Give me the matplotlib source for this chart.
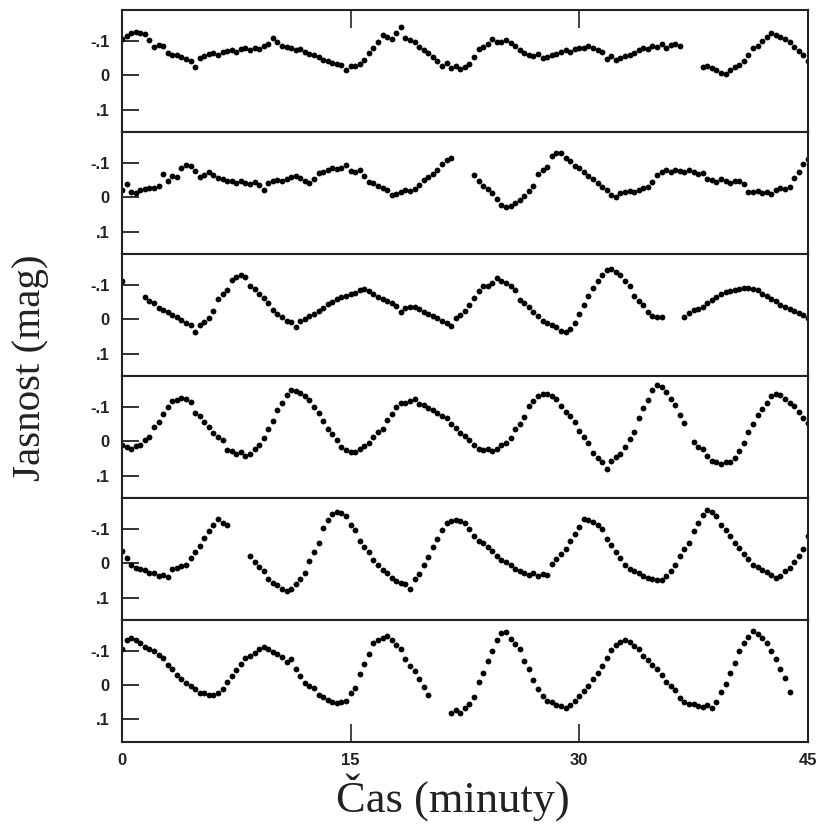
import numpy as np
import matplotlib.pyplot as plt

# sampling cadence of the photometry (minutes)
STEP = 0.3

# brightness in hundredths of mag (top to bottom)
p1_a = [-10.5, -11.5, -12.4, -12.6, -12.3, -12.0, -10.3, -8.2, -8.8, -8.5, -6.5, -6.0,
        -5.8, -5.3, -4.6, -4.2, -2.3, -5.0, -5.6, -6.2, -6.5, -6.0, -6.8, -7.0, -7.4,
        -6.8, -7.6, -8.0, -7.2, -8.0, -7.6, -8.4, -9.2, -10.7, -9.8, -8.6, -8.2, -7.9,
        -7.3, -7.6, -6.8, -6.2, -5.9, -5.2, -4.4, -4.2, -3.6, -3.2, -3.0, -1.5, -2.6,
        -2.8, -3.2, -4.5, -6.5, -7.8, -9.8, -11.6, -11.0, -10.5, -12.2, -13.9, -10.8,
        -10.2, -9.6, -8.3, -7.2, -6.6, -5.4, -4.0, -2.8, -3.6, -2.2, -2.6, -1.8, -2.4,
        -3.4, -5.2, -7.6, -8.3, -9.0, -10.4, -9.8, -9.6, -10.2, -9.5, -8.6, -7.2, -6.6,
        -6.0, -5.6, -6.2, -5.0, -5.4, -6.0, -6.3, -6.9, -7.2, -6.8, -7.6, -8.0, -7.8,
        -8.4, -7.9, -7.4, -6.8, -4.6, -5.6, -4.4, -5.0, -5.5, -6.0, -6.6, -7.2, -8.0,
        -7.6, -8.6, -8.2, -9.0, -8.0, -8.8, -9.2, -8.4]
p1_b = [-2.4, -2.8, -2.0, -1.4, -0.6, -0.3, -1.6, -2.4, -3.0, -4.2, -5.8, -7.8, -8.6,
        -10.0, -11.2, -12.2, -11.8, -11.2, -10.4, -9.6, -8.2, -7.0, -5.8, -4.2]

p2_a = [-2.0, -3.8, -1.6, -1.2, -2.0, -2.4, -2.8, -2.6, -3.2, -6.8, -4.6, -6.2, -6.0,
        -8.6, -9.4, -9.0, -7.6, -6.0, -6.6, -7.2, -6.4, -5.6, -5.2, -4.8, -4.6, -4.2,
        -4.8, -4.0, -3.8, -4.4, -3.6, -2.2, -4.0, -4.6, -5.0, -4.6, -5.4, -5.8, -6.2,
        -5.6, -4.8, -4.0, -5.4, -7.0, -7.4, -7.8, -8.6, -8.2, -8.6, -9.4, -7.6, -7.4,
        -7.8, -6.2, -4.4, -4.0, -3.4, -2.8, -2.0, -0.6, -1.0, -1.6, -2.0, -1.8, -2.4,
        -3.6, -5.0, -5.8, -6.8, -7.8, -9.8, -10.8, -11.4]
p2_b = [-6.6, -4.6, -3.2, -2.4, -1.2, 0.4, 2.2, 2.8, 2.6, 1.8, 0.8, -0.4, -1.8, -3.4,
        -6.8, -7.8, -8.8, -12.0, -12.8, -13.0, -11.4, -10.4, -9.0, -8.4, -7.4, -6.2,
        -5.2, -4.0, -3.0, -2.0, -0.6, -0.2, -1.2, -1.4, -1.8, -1.6, -2.2, -2.6, -3.0,
        -4.4, -6.4, -7.2, -7.8, -7.4, -7.8, -7.6, -7.2, -7.8, -7.4, -6.8, -7.0, -5.4,
        -5.0, -4.4, -5.2, -4.8, -4.2, -4.8, -4.6, -3.8, -1.6, -1.4, -1.8, -1.2, -1.6,
        -1.0, -2.2, -2.6, -2.4, -3.0, -5.6, -7.4, -9.6, -11.0]

p3_a = [-11.0]
p3_b = [-6.4, -5.2, -4.6, -3.2, -2.6, -2.0, -1.2, -0.6, 0.2, 1.0, 1.6, 3.6, 1.8, 0.8,
        -0.4, -2.4, -5.8, -7.2, -8.4, -11.4, -12.2, -13.0, -12.2, -9.8, -8.8, -7.4,
        -6.2, -4.6, -2.6, -1.6, -0.6, 0.4, 0.8, 2.2, 0.6, 0.0, -0.8, -1.4, -2.4, -3.2,
        -4.4, -5.0, -5.8, -6.4, -6.8, -7.2, -7.6, -8.4, -8.8, -8.2, -7.4, -6.4, -6.0,
        -5.4, -4.6, -3.8, -2.0, -3.2, -3.6, -3.4, -3.0, -2.2, -1.6, -1.0, -0.2, 0.4,
        1.0, 2.0, -0.4, -1.2, -2.4, -4.2, -6.2, -8.2, -9.6, -9.8, -10.6, -12.0, -11.0,
        -10.4, -9.6, -8.4, -5.6, -4.8, -3.6, -2.2, -0.8, 0.6, 1.2, 1.6, 2.4, 3.4, 3.6,
        3.0, 1.2, -1.4, -4.0, -6.6, -9.0, -11.2, -13.0, -14.2, -14.6, -13.6, -12.8,
        -11.0, -9.6, -6.8, -5.2, -4.0, -2.2, -1.0, -0.6, -0.6]
p3_c = [-0.6, -1.8, -2.6, -3.0, -3.6, -4.6, -5.6, -6.4, -7.2, -7.8, -8.2, -8.6, -8.8,
        -9.0, -9.2, -8.8, -8.4, -7.4, -6.8, -6.0, -5.2, -4.2, -3.6, -3.0, -2.4, -1.8,
        -1.2, -0.4]

p4_a = [1.2, 1.6, 2.4, 1.4, 1.0, -0.2, -1.2, -4.2, -5.6, -8.0, -10.0, -11.8, -12.0,
        -12.6, -12.2, -11.4, -8.2, -7.2, -5.6, -4.0, -2.4, -1.2, -0.2, 2.6, 3.0, 3.6,
        3.2, 4.4, 3.6, 2.4, 1.0, -0.8, -3.4, -6.0, -9.2, -11.0, -13.4, -14.8, -14.6,
        -14.0, -13.2, -12.0, -10.0, -8.2, -6.0, -3.6, -2.0, -0.2, 1.6, 2.6, 3.2, 3.2,
        2.4, 1.4, 0.6, -1.2, -2.6, -3.6, -6.2, -8.0, -9.8, -11.2, -11.0, -11.8, -12.2,
        -10.8, -10.4, -9.6, -9.0, -8.2, -7.2, -6.6, -5.0, -3.8, -2.4, -1.4, -0.4, 1.2,
        2.2, 2.6, 2.2, 2.8, 2.4, 1.2, 0.4, -0.8, -3.4, -5.0, -7.0, -10.2, -11.6, -13.2,
        -13.8, -13.6, -13.0, -12.4, -10.2, -8.6, -7.2, -5.6, -3.0, -1.2, 0.4, 3.4, 5.0,
        6.2, 8.0, 5.8, 4.6, 3.6, 1.6, -0.6, -2.8, -6.6, -9.6, -12.0, -15.0, -16.2,
        -15.8, -14.2, -12.4, -10.6, -7.6, -5.4]
p4_b = [0.2, 1.6, 2.4, 4.2, 5.8, 6.2, 6.6, 6.0, 6.2, 4.8, 3.0, 0.6, -2.6, -5.0, -7.6,
        -9.4, -11.2, -13.0, -13.8, -13.4, -12.2, -11.0, -10.2, -8.6, -6.8, -5.2]

p5_a = [-3.4, -1.6, 0.6, 1.4, 1.8, 2.0, 2.8, 3.0, 3.6, 3.4, 4.0, 1.8, 1.4, 0.8, 0.4,
        -1.6, -3.2, -5.0, -7.2, -9.4, -11.2, -12.8, -11.8, -11.0]
p5_b = [-2.2, -0.2, 1.0, 2.4, 4.6, 5.8, 6.4, 7.6, 8.2, 7.4, 6.2, 4.6, 3.0, -0.6, -3.2,
        -5.8, -10.2, -12.6, -14.4, -14.8, -14.6, -13.8, -11.0, -9.6, -6.4, -4.8, -3.2,
        -1.0, 0.6, 2.0, 3.0, 4.2, 5.2, 5.8, 6.2, 7.4, 4.6, 3.2, 0.6, -1.8, -4.6, -7.0,
        -9.6, -11.6, -12.4, -12.6, -12.2, -11.6, -9.8, -8.0, -6.4, -5.8, -4.8, -3.6,
        -2.0, -1.0, -0.4, 0.4, 1.8, 2.4, 2.8, 3.4, 3.0, 3.6, 3.2, 3.4, 0.2, -1.2, -2.6,
        -4.0, -6.4, -8.6, -10.6, -12.8, -12.6, -12.0, -11.0, -9.8, -7.0, -5.4, -3.2,
        -1.4, 0.6, 1.6, 2.2, 2.8, 3.6, 4.2, 4.6, 5.0, 4.8, 3.6, 2.4, 0.6, -2.0, -4.0,
        -6.0, -9.4, -11.6, -14.0, -15.6, -15.0, -13.6, -11.0, -9.6, -8.0, -6.0, -4.4,
        -2.6, -1.2, 0.4, 1.2, 2.0, 2.6, 3.4, 4.2, 3.8, 2.2, 1.4, -0.4, -2.2, -4.0, -8.0]

p6_a = [-10.4, -13.2, -13.6, -13.0, -12.2, -11.2, -10.6, -10.0, -8.8, -7.8, -5.8, -4.6,
        -3.0, -1.8, -0.6, 0.2, 1.2, 2.4, 2.2, 3.0, 2.8, 2.2, 1.0, -0.8, -2.6, -4.4,
        -6.2, -7.8, -8.6, -9.4, -10.6, -11.0, -10.4, -9.6, -9.0, -8.2, -6.8, -7.6,
        -4.6, -2.6, -0.6, 0.2, 0.8, 2.8, 3.6, 4.2, 5.0, 5.2, 4.8, 4.6, 2.2, 0.8, -3.2,
        -6.2, -9.0, -12.2, -13.0, -13.6, -14.2, -13.2, -11.8, -10.4, -7.6, -5.6, -4.0,
        -1.8, 0.6, 3.0]
p6_b = [8.2, 7.2, 8.0, 6.8, 5.6, 3.4, -0.8, -3.6, -7.0, -9.8, -13.0, -15.2, -15.6,
        -13.4, -12.0, -10.6, -7.0, -4.6, -1.4, 1.2, 3.2, 4.6, 5.0, 5.8, 6.2, 6.6, 5.8,
        4.6, 3.2, 1.6, 0.2, -1.8, -3.6, -5.6, -8.0, -10.2, -11.6, -12.6, -13.0, -12.6,
        -11.4, -10.6, -8.6, -7.2, -5.8, -4.6, -3.0, -0.8, 0.4, 1.4, 3.8, 4.8, 5.6, 5.4,
        6.0, 6.4, 5.8, 6.6, 4.8, 2.0, -0.4, -3.4, -6.4, -9.8, -12.4, -14.0, -15.8,
        -15.0, -13.8, -12.4, -9.8, -7.6, -4.6, -2.0, 2.0]

# (start time in minutes, values) for every unbroken run of each strip
panels = [
    [(0.0, p1_a), (38.1, p1_b)],
    [(0.0, p2_a), (23.1, p2_b)],
    [(0.0, p3_a), (1.5, p3_b), (36.9, p3_c)],
    [(0.0, p4_a), (37.5, p4_b)],
    [(0.0, p5_a), (8.4, p5_b)],
    [(0.0, p6_a), (21.6, p6_b)],
]

x_ticks = [0, 15, 30, 45]
y_ticks = [-0.1, 0.0, 0.1]
y_ticklabels = ["-.1", "0", ".1"]

fig = plt.figure(figsize=(8.26, 8.27), dpi=100)
gs = fig.add_gridspec(len(panels), 1, left=0.1477, right=0.978, top=0.988,
                      bottom=0.103, hspace=0)

tick_font = dict(family="Liberation Sans", weight="bold", size=12)

for i, segs in enumerate(panels):
    ax = fig.add_subplot(gs[i])
    for start, vals in segs:
        v = np.array(vals) / 100.0
        t = start + STEP * np.arange(len(v))
        ax.plot(t, v, "o", color="black", ms=4.2, mec="none")

    ax.set_xlim(0, 45)
    ax.set_ylim(0.165, -0.19)
    ax.set_yticks(y_ticks)
    ax.set_yticklabels(y_ticklabels, fontdict=tick_font)
    ax.tick_params(axis="y", direction="in", length=12, width=1.3, pad=9,
                   colors="#222222")
    ax.set_xticks(x_ticks)
    ax.tick_params(axis="x", direction="in", length=13, width=1.2,
                   top=(i == 0), bottom=(i == len(panels) - 1),
                   labelbottom=(i == len(panels) - 1), pad=8, colors="#222222")
    if i == len(panels) - 1:
        ax.set_xticklabels([str(x) for x in x_ticks], fontdict=tick_font)
    for s in ax.spines.values():
        s.set_linewidth(1.5)
        s.set_color("#222222")

fig.text(0.548, 0.036, "Čas (minuty)", family="Liberation Serif", size=32,
         ha="center", va="center", color="#222222")
fig.text(0.037, 0.555, "Jasnost (mag)", family="Liberation Serif", size=29.5,
         ha="center", va="center", rotation=90, color="#222222")

fig.savefig("out.png", dpi=100)
